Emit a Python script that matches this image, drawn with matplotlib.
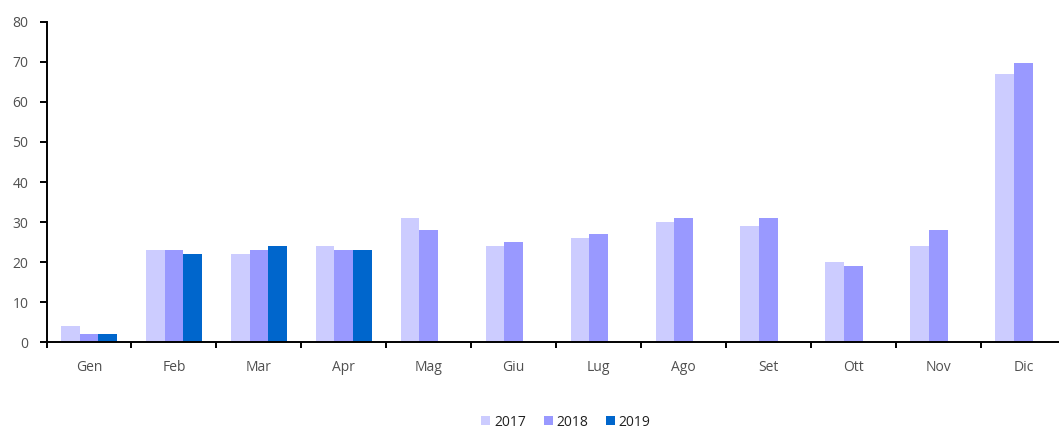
import matplotlib
matplotlib.use("Agg")
import matplotlib.pyplot as plt
import numpy as np
from matplotlib.patches import Patch

months = ["Gen", "Feb", "Mar", "Apr", "Mag", "Giu", "Lug", "Ago", "Set", "Ott", "Nov", "Dic"]
years = ["2017", "2018", "2019"]
v2017 = [4, 23, 22, 24, 31, 24, 26, 30, 29, 20, 24, 67]
v2018 = [2, 23, 23, 23, 28, 25, 27, 31, 31, 19, 28, 69.6]
v2019 = [2, 22, 24, 23]
colors = ["#CCCCFF", "#9999FF", "#0066CC"]
yticks = [0, 10, 20, 30, 40, 50, 60, 70, 80]

plt.rcParams["font.family"] = ["Open Sans", "DejaVu Sans"]

W, H = 1059, 430
fig = plt.figure(figsize=(W / 100, H / 100), dpi=100)
left, right, bottom, top = 46.5, 1065.8, 342.3, 21.7
ax = fig.add_axes([left / W, 1 - bottom / H, (right - left) / W, (bottom - top) / H])

x = np.arange(len(months))
bw = 0.22
series = [v2017, v2018, v2019]
for i, (vals, c) in enumerate(zip(series, colors)):
    xs = x[:len(vals)] + (i - 1) * bw
    ax.bar(xs, vals, width=bw, color=c, edgecolor="none", zorder=2)

ax.set_xlim(-0.5, len(months) - 0.5)
ax.set_ylim(0, 80)
ax.set_yticks(yticks)
ax.set_xticks(x)
ax.set_xticklabels(months)
ax.set_xticks(np.arange(len(months) + 1) - 0.5, minor=True)

for s in ["top", "right"]:
    ax.spines[s].set_visible(False)
for s in ["left", "bottom"]:
    ax.spines[s].set_linewidth(1.4)
    ax.spines[s].set_color("black")

ax.tick_params(axis="x", which="major", length=0, pad=13, labelsize=10, labelcolor="#505050")
ax.tick_params(axis="x", which="minor", length=4, width=1.4, direction="out", color="black")
ax.tick_params(axis="y", length=5, width=1.4, direction="out", color="black", pad=8,
               labelsize=10, labelcolor="#505050")

handles = [Patch(facecolor=c, edgecolor="none") for c in colors]
fig.legend(handles, years, loc="center", bbox_to_anchor=(566 / W, 1 - 422 / H), ncol=3,
           frameon=False, fontsize=10, handlelength=0.65, handleheight=0.65,
           handletextpad=0.25, columnspacing=1.3, labelcolor="#202020")

fig.savefig("out.png", dpi=100)
